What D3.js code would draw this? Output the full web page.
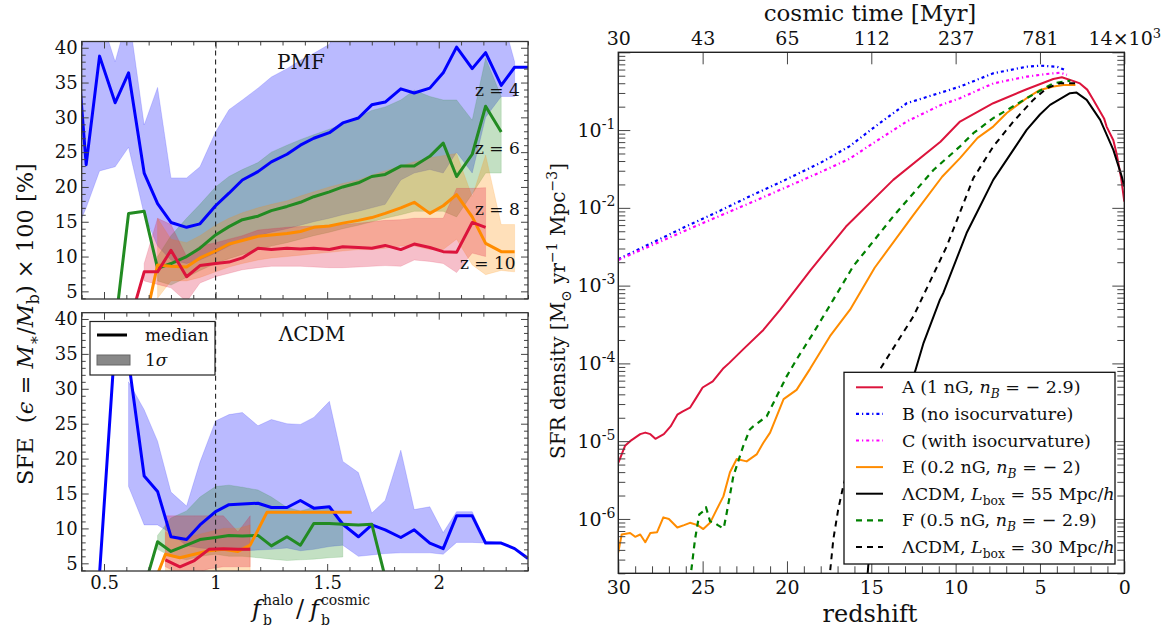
<!DOCTYPE html>
<html>
<head>
<meta charset="utf-8">
<title>SFE vs baryon fraction and SFR density</title>
<script src="https://d3js.org/d3.v7.min.js"></script>
<style>
  body { margin: 0; background: #fff; }
  text { font-family: "DejaVu Serif", serif; fill: #111; }
</style>
</head>
<body>
<script>
const _ = null;

// ---------- left panels: SFE vs f_b^halo / f_b^cosmic ----------
const fbBins = [0.36, 0.42, 0.48, 0.55, 0.61, 0.68, 0.74, 0.80, 0.87, 0.93, 1.00, 1.06, 1.12, 1.19, 1.25, 1.32, 1.38,
                1.44, 1.51, 1.57, 1.64, 1.70, 1.76, 1.83, 1.89, 1.96, 2.02, 2.08, 2.15, 2.21, 2.28, 2.34, 2.40];

// PMF panel
const pmfZ4Med = [48, 23.2, 38.8, 32.1, 36.4, 22.0, 17.6, 14.9, 14.2, 14.7, 17.3, 19.1, 21.0, 22.2, 23.6, 24.7, 26.0,
                  27.0, 27.8, 29.2, 29.9, 31.8, 32.2, 34.1, 33.5, 34.2, 36.4, 40.1, 37.0, 39.3, 34.6, 37.2, 37.2];
const pmfZ4Hi  = [45, 45, 45, 38, 45, 28.9, 34.3, 21.3, 21.3, 22.9, 27.9, 31.1, 32.5, 34.2, 35.8, 37.0, 38.2,
                  39.2, 40.5, 45, 45, 45, 45, 45, 45, 45, 45, 45, 45, 45, 45, 38.0, _];
const pmfZ4Lo  = [12.5, 17, 22.3, 22.9, 25.7, 16, 11.5, 9.5, 9.0, 9.5, 10.5, 11.5, 12.5, 13, 13.5, 14, 14.5,
                  15, 15.5, 16, 16.5, 17, 17.5, 21, 22, 22.5, 22, 25, 22, 30, 33, 33, _];
const pmfZ6Med = [_, _, _, 0, 16.2, 16.5, 8.3, 9.0, 10.0, 11.2, 13.1, 14.3, 15.3, 15.8, 16.6, 17.2, 17.8,
                  18.6, 19.3, 20.0, 20.6, 21.5, 21.8, 23.0, 23.0, 24.4, 26.3, 21.5, 24.7, 31.6, 27.9, _, _];
const pmfZ6Hi  = [_, _, _, _, _, _, 10, 13, 15.5, 17.5, 20, 21.5, 22.5, 23.5, 25, 26, 26.8,
                  27.5, 28.3, 29, 30, 31, 31.5, 32.5, 33.9, 33, 32.5, 32.5, 29.6, 38.5, 33, _, _];
const pmfZ6Lo  = [_, _, _, _, _, _, 6.5, 5.9, 7, 8, 9, 9.7, 10.3, 11, 11.5, 12, 12.5,
                  13, 13.5, 14, 14.5, 15, 15.5, 16, 16.5, 16.5, 16.5, 15.7, 19, 22, 22, _, _];
const pmfZ8Med = [_, _, _, _, _, 0, 8.8, 8.6, 8.5, 9.8, 10.8, 11.8, 12.3, 12.9, 13.1, 13.3, 13.6,
                  14.2, 14.4, 14.8, 15.2, 15.6, 16.2, 17.0, 17.8, 16.2, 17.3, 18.9, 15.7, 11.9, 10.7, 10.7, _];
const pmfZ8Hi  = [_, _, _, _, _, _, 15.5, 12.5, 12, 13, 14.5, 15.5, 16.3, 17, 17.5, 18, 18.7,
                  19.3, 20, 20.5, 21, 21.7, 22.3, 23, 23.6, 24.2, 24.5, 24.8, 18.6, 24.6, 14.6, 14.6, _];
const pmfZ8Lo  = [_, _, _, _, _, _, 4, 6.5, 6.5, 7.0, 7.8, 8.5, 9, 9.5, 9.8, 10, 10.2,
                  10.4, 10.6, 10.8, 11, 11, 11.2, 11.5, 11.5, 11, 11, 12.5, 8.8, 7.4, 8.0, 7.8, _];
const pmfZ10Med = [_, _, _, _, 0, 7.8, 7.8, 10.9, 7.1, 8.7, 9.0, 9.2, 9.8, 11.2, 11.0, 11.2, 11.1,
                   11.2, 11.0, 11.4, 11.3, 11.2, 11.6, 11.0, 11.8, 11.3, 10.7, 10.6, 14.9, 14.2, _, _, _];
const pmfZ10Hi  = [_, _, _, _, _, 9, 15.5, 14.6, 10, 11.5, 12, 12.5, 13, 13.8, 14, 14.2, 14.3,
                   14.4, 14.5, 14.6, 14.8, 15, 15.2, 15.3, 15.5, 15.5, 15.5, 19.8, 19.8, 19.9, _, _, _];
const pmfZ10Lo  = [_, _, _, _, _, 6.5, 6.0, 5.5, 3.5, 6.2, 7.1, 7.6, 8.1, 8.4, 8.6, 8.6, 8.6,
                   8.5, 8.4, 8.4, 8.5, 8.6, 8.7, 8.6, 9.5, 9.3, 9.0, 7.7, 10.5, 10.0, _, _, _];

// LCDM panel
const lcdmZ4Med = [_, _, 3.5, 37, 34, 17.5, 15.3, 8.8, 8.4, 10.5, 12.4, 13.4, 13.5, 13.6, 13.0, 13.0, 14.0,
                   12.9, 13.1, 10.6, 8.8, 10.5, 9.8, 8.7, 9.8, 7.9, 7.1, 11.8, 11.8, 7.9, 7.9, 7.1, 5.7];
const lcdmZ4Hi  = [_, _, _, _, 31, 27, 22.5, 15.2, 13.2, 19.5, 25.4, 26.3, 26.6, 24.7, 25.6, 25, 24.9,
                   25.9, 28.2, 19.6, 18.0, 12.2, 14, 21.2, 12.7, 13.1, 9.4, 12.4, 12.4, 8.2, 8.0, _, _];
const lcdmZ4Lo  = [_, _, _, _, 16, 10.5, 10.5, 9.3, 7.5, 7.2, 7.0, 6.9, 6.8, 6.9, 7.0, 7.2, 6.8,
                   7.0, 7.4, 7.6, 6.0, 6.2, 6.4, 6.5, 6.5, 6.5, 6.3, 8.0, 8.0, 7.9, 7.8, _, _];
const lcdmZ6Med = [_, _, _, _, _, 1.5, 8.1, 6.7, 7.6, 8.4, 8.7, 9.0, 8.9, 9.0, 7.5, 8.8, 7.6,
                   10.7, 10.7, 10.6, 10.5, 10.6, 3.0, _, _, _, _, _, _, _, _, _, _];
const lcdmZ6Hi  = [_, _, _, _, _, _, 9, 11.5, 12.5, 14.5, 16, 16.2, 15.9, 15.5, 14.5, 13, 12.5,
                   13, 12.8, 11, _, _, _, _, _, _, _, _, _, _, _, _, _];
const lcdmZ6Lo  = [_, _, _, _, _, _, 7, 6, 5.5, 6, 6.3, 6, 6, 5.8, 5.6, 5.4, 5.5,
                   5.6, 5.8, 5.9, _, _, _, _, _, _, _, _, _, _, _, _, _];
const lcdmHalfBins = [0.71, 0.775, 0.84, 0.905, 0.97, 1.035, 1.10, 1.155, 1.23, 1.61];
const lcdmZ8Med  = [1.0, 6.3, 5.8, 6.3, 6.8, 7.0, 6.7, 7.6, 12.3, 12.3];
const lcdmZ8Hi   = [_, 9.5, 8.5, 9, 9.5, 10, 10, 10.5, _, _];
const lcdmZ8Lo   = [_, 3.0, 3.0, 3.2, 3.5, 3.5, 3.5, 3.5, _, _];
const lcdmZ10Med = [_, 5.5, 4.5, 5.4, 7.0, 7.1, 7.0, 7.0, _, _];
const lcdmZ10Hi  = [_, 11.8, 11.8, 11.8, 11.8, 11.8, 9.5, 11.8, _, _];
const lcdmZ10Lo  = [_, 4.5, 3.5, 3.5, 4.2, 4.5, 4.5, 4.5, _, _];

const fbMajorTicks = [0.5, 1, 1.5, 2];
const sfeMajorTicks = [5, 10, 15, 20, 25, 30, 35, 40];

// ---------- right panel: SFR density vs redshift (log10 values) ----------
const zA = [30, 29.6, 29.3, 28.7, 28.4, 28.1, 27.8, 27.3, 26.9, 26.5, 26.2, 25.75, 25.4, 25.0, 24.4, 23.8, 23.4, 22.6,
            21.4, 20.4, 18.6, 16.5, 13.7, 10.9, 9.74, 7.77, 5.79, 4.21, 3.7, 3.0, 2.63, 2.2, 1.84, 1.2, 1.05, 0.65, 0.46, 0.2, 0];
const logA = [-5.28, -5.06, -5.00, -4.91, -4.89, -4.91, -4.97, -4.91, -4.81, -4.66, -4.62, -4.57, -4.45, -4.31, -4.23, -4.07, -3.99, -3.82,
              -3.57, -3.31, -2.80, -2.24, -1.64, -1.15, -0.89, -0.655, -0.475, -0.343, -0.32, -0.37, -0.40, -0.48, -0.61, -0.85, -0.955, -1.13, -1.30, -1.60, -1.92];
const zB = [30, 28, 26, 24, 22, 20, 18, 16.3, 14.9, 12.9, 10.9, 9.74, 7.77, 5.79, 5.0, 4.0, 3.52];
const logB = [-2.66, -2.45, -2.24, -2.04, -1.83, -1.63, -1.42, -1.21, -0.976, -0.655, -0.52, -0.441, -0.270, -0.185, -0.172, -0.185, -0.227];
const zC = [30, 26, 22, 18, 16.3, 14.9, 12.9, 10.9, 9.74, 7.77, 5.8, 4.6, 3.8, 3.4];
const logC = [-2.67, -2.29, -1.92, -1.54, -1.37, -1.17, -0.89, -0.68, -0.59, -0.40, -0.313, -0.279, -0.262, -0.29];
const zE = [30, 29.8, 29.3, 29.0, 28.7, 28.4, 28.1, 27.7, 27.33, 27.0, 26.5, 26.1, 25.75, 25.3, 24.96, 24.56, 24.17, 23.77,
            23.38, 22.98, 22.39, 21.8, 21.4, 21.0, 20.2, 19.43, 18.63, 17.45, 16.26, 14.8, 12.5, 10.8, 9.74, 8.7, 7.77, 6.97, 5.79, 5.0, 4.2, 3.6, 2.9];
const logE = [-6.43, -6.20, -6.18, -6.23, -6.20, -6.30, -6.18, -6.17, -5.98, -6.00, -6.11, -6.08, -6.05, -6.08, -6.13, -6.05, -5.88, -5.71,
              -5.40, -5.23, -5.26, -5.17, -5.02, -4.89, -4.46, -4.34, -4.07, -3.65, -3.31, -2.77, -2.09, -1.60, -1.36, -1.10, -0.955, -0.78, -0.59, -0.484, -0.44, -0.42, -0.42];
const zL55 = [15.25, 15.18, 14.5, 13.5, 12.4, 11.9, 10.93, 10.73, 9.35, 8.56, 7.77, 5.79, 5.0, 4.4, 3.22, 2.83, 2.23, 1.43, 0.65, 0.15, 0];
const logL55 = [-6.8, -6.6, -5.6, -4.8, -4.10, -3.735, -3.18, -3.094, -2.324, -1.982, -1.64, -0.998, -0.80, -0.676, -0.526, -0.518, -0.612, -0.869, -1.254, -1.597, -1.725];
const zF = [25.75, 25.45, 25.2, 24.96, 24.8, 24.56, 24.3, 24.1, 23.87, 23.75, 23.57, 23.18, 22.59, 22.2, 22.0, 21.2, 20.6, 20.0,
            19.43, 18.44, 17.25, 16.07, 14.88, 13.7, 11.3, 9.74, 8.95, 7.77, 5.79, 4.2, 3.2];
const logF = [-6.8, -6.26, -5.94, -5.90, -5.85, -6.03, -6.05, -6.08, -6.11, -6.12, -5.92, -5.45, -5.06, -4.85, -4.81, -4.68, -4.42, -4.16,
              -3.95, -3.61, -3.18, -2.75, -2.43, -2.11, -1.51, -1.21, -1.04, -0.847, -0.591, -0.398, -0.365];
const zL30 = [17.5, 17.25, 16.96, 16.66, 16.0, 15.2, 14.49, 12.5, 10.53, 8.95, 7.77, 6.58, 5.4, 4.6, 3.82, 2.83, 2.7];
const logL30 = [-6.8, -6.26, -5.875, -5.576, -5.05, -4.55, -4.078, -3.394, -2.496, -1.618, -1.212, -0.891, -0.612, -0.462, -0.398, -0.398, -0.42];

const redshiftTicks = [30, 25, 20, 15, 10, 5, 0];
const cosmicTimeLabels = ["30", "43", "65", "112", "237", "781", "14×10"];
const sfrDecades = [-6, -5, -4, -3, -2, -1];

// ---------- figure ----------
const W = 1167, H = 628;
const svg = d3.select("body").append("svg").attr("width", W).attr("height", H);
const defs = svg.append("defs");

const left = { x0: 81.7, x1: 528 };
const right = { x0: 618.3, x1: 1124.3, y0: 52.3, y1: 573.3 };

const fbX = d3.scaleLinear().domain([0.4, 2.4]).range([left.x0, left.x1]);
const yPmf = d3.scaleLinear().domain([3.9, 40.9]).range([299, 41.5]);
const yLcdm = d3.scaleLinear().domain([3.9, 40.9]).range([571, 312.7]);

const colBlue = "#0000ff", colGreen = "#228b22", colOrange = "#ff8c00", colRed = "#dc143c";

function styleAxis(g, fs) {
  g.select(".domain").remove();
  g.selectAll(".tick line").attr("stroke", "#444").attr("stroke-width", 1);
  g.selectAll(".tick text").attr("font-family", "DejaVu Serif").attr("font-size", fs).attr("fill", "#111");
}

function rich(sel, parts, fs) {
  let shift = 0;
  parts.forEach(p => {
    const target = p.sub ? 0.28 * fs : p.sup ? -0.42 * fs : 0;
    const ts = sel.append("tspan").text(p.t).attr("dy", target - shift);
    shift = target;
    if (p.sub || p.sup) ts.attr("font-size", (p.fs || 0.7) * fs);
    if (p.i) ts.attr("font-style", "italic");
  });
}

function fbPanel(y, id, bands, lines, showLabels) {
  const [yb, yt] = y.range();
  defs.append("clipPath").attr("id", id).append("rect")
    .attr("x", left.x0).attr("y", yt).attr("width", left.x1 - left.x0).attr("height", yb - yt);
  const g = svg.append("g");
  const plot = g.append("g").attr("clip-path", `url(#${id})`);

  bands.forEach(b => {
    const pts = b.x.map((x, i) => ({ x, lo: b.lo[i], hi: b.hi[i] })).filter(d => d.lo != null && d.hi != null);
    plot.append("path")
      .attr("d", d3.area().x(d => fbX(d.x)).y0(d => y(d.lo)).y1(d => y(d.hi))(pts))
      .attr("fill", b.color).attr("fill-opacity", 0.27)
      .attr("stroke", b.color).attr("stroke-opacity", 0.15).attr("stroke-width", 1);
  });

  plot.append("line").attr("x1", fbX(1)).attr("x2", fbX(1)).attr("y1", yt).attr("y2", yb)
    .attr("stroke", "#222").attr("stroke-width", 1.1).attr("stroke-dasharray", "5,4");

  lines.forEach(l => {
    const pts = l.x.map((x, i) => ({ x, v: l.v[i] })).filter(d => d.v != null);
    plot.append("path")
      .attr("d", d3.line().x(d => fbX(d.x)).y(d => y(d.v))(pts))
      .attr("fill", "none").attr("stroke", l.color).attr("stroke-width", 3).attr("stroke-linejoin", "round");
  });

  const minorX = d3.range(4, 25).map(d => d / 10).filter(d => !fbMajorTicks.includes(d));
  const minorY = d3.range(4, 41).filter(d => d % 5 !== 0);

  const bx = g.append("g").attr("transform", `translate(0,${yb})`)
    .call(d3.axisBottom(fbX).tickValues(fbMajorTicks).tickSize(-7).tickPadding(5)
      .tickFormat(showLabels ? (d => String(d)) : () => ""));
  styleAxis(bx, 18);
  styleAxis(g.append("g").attr("transform", `translate(0,${yb})`)
    .call(d3.axisBottom(fbX).tickValues(minorX).tickSize(-4).tickFormat("")), 18);
  styleAxis(g.append("g").attr("transform", `translate(0,${yt})`)
    .call(d3.axisTop(fbX).tickValues(fbMajorTicks).tickSize(-7).tickFormat("")), 18);
  styleAxis(g.append("g").attr("transform", `translate(0,${yt})`)
    .call(d3.axisTop(fbX).tickValues(minorX).tickSize(-4).tickFormat("")), 18);

  styleAxis(g.append("g").attr("transform", `translate(${left.x0},0)`)
    .call(d3.axisLeft(y).tickValues(sfeMajorTicks).tickSize(-7).tickPadding(4)), 18);
  styleAxis(g.append("g").attr("transform", `translate(${left.x0},0)`)
    .call(d3.axisLeft(y).tickValues(minorY).tickSize(-4).tickFormat("")), 18);
  styleAxis(g.append("g").attr("transform", `translate(${left.x1},0)`)
    .call(d3.axisRight(y).tickValues(sfeMajorTicks).tickSize(-7).tickFormat("")), 18);
  styleAxis(g.append("g").attr("transform", `translate(${left.x1},0)`)
    .call(d3.axisRight(y).tickValues(minorY).tickSize(-4).tickFormat("")), 18);

  g.append("rect").attr("x", left.x0).attr("y", yt).attr("width", left.x1 - left.x0).attr("height", yb - yt)
    .attr("fill", "none").attr("stroke", "#333").attr("stroke-width", 1.3);
  return g;
}

// PMF panel
const gPmf = fbPanel(yPmf, "clipPmf",
  [
    { x: fbBins, lo: pmfZ4Lo, hi: pmfZ4Hi, color: colBlue },
    { x: fbBins, lo: pmfZ6Lo, hi: pmfZ6Hi, color: colGreen },
    { x: fbBins, lo: pmfZ8Lo, hi: pmfZ8Hi, color: colOrange },
    { x: fbBins, lo: pmfZ10Lo, hi: pmfZ10Hi, color: colRed }
  ],
  [
    { x: fbBins, v: pmfZ4Med, color: colBlue },
    { x: fbBins, v: pmfZ6Med, color: colGreen },
    { x: fbBins, v: pmfZ8Med, color: colOrange },
    { x: fbBins, v: pmfZ10Med, color: colRed }
  ], false);

gPmf.append("text").attr("x", 301).attr("y", 69).attr("text-anchor", "middle").attr("font-size", 20).text("PMF");
[["z = 4", 475, 96, "#2a2aa8"], ["z = 6", 475, 154, "#2f6f2f"], ["z = 8", 475, 215, "#b9823a"], ["z = 10", 460, 269, "#a3243f"]]
  .forEach(([t, x, y, c]) => gPmf.append("text").attr("x", x).attr("y", y).attr("font-size", 17).attr("fill", c).text(t));

// LCDM panel
const gLcdm = fbPanel(yLcdm, "clipLcdm",
  [
    { x: fbBins, lo: lcdmZ4Lo, hi: lcdmZ4Hi, color: colBlue },
    { x: fbBins, lo: lcdmZ6Lo, hi: lcdmZ6Hi, color: colGreen },
    { x: lcdmHalfBins, lo: lcdmZ8Lo, hi: lcdmZ8Hi, color: colOrange },
    { x: lcdmHalfBins, lo: lcdmZ10Lo, hi: lcdmZ10Hi, color: colRed }
  ],
  [
    { x: fbBins, v: lcdmZ4Med, color: colBlue },
    { x: fbBins, v: lcdmZ6Med, color: colGreen },
    { x: lcdmHalfBins, v: lcdmZ8Med, color: colOrange },
    { x: lcdmHalfBins, v: lcdmZ10Med, color: colRed }
  ], true);

gLcdm.append("text").attr("x", 312).attr("y", 341).attr("text-anchor", "middle").attr("font-size", 20).text("ΛCDM");

// small legend (median / 1 sigma)
const lg = gLcdm.append("g");
lg.append("rect").attr("x", 90).attr("y", 321.5).attr("width", 125).attr("height", 53.5)
  .attr("fill", "#fff").attr("stroke", "#222").attr("stroke-width", 1.2);
lg.append("line").attr("x1", 97).attr("x2", 127).attr("y1", 335).attr("y2", 335).attr("stroke", "#000").attr("stroke-width", 3);
lg.append("text").attr("x", 145).attr("y", 341).attr("font-size", 17).text("median");
lg.append("rect").attr("x", 97).attr("y", 355).attr("width", 33).attr("height", 10)
  .attr("fill", "#888").attr("stroke", "#666").attr("stroke-width", 1);
rich(lg.append("text").attr("x", 145).attr("y", 366).attr("font-size", 17), [{ t: "1" }, { t: "σ", i: true }], 17);

// left axis labels
const ylab = svg.append("text").attr("transform", "translate(33,324) rotate(-90)")
  .attr("text-anchor", "middle").attr("font-size", 22.5);
rich(ylab, [
  { t: "SFE\u00a0\u00a0(" }, { t: "ϵ", i: true }, { t: " = " }, { t: "M", i: true }, { t: "∗", sub: true },
  { t: "/" }, { t: "M", i: true }, { t: "b", sub: true }, { t: ") × 100 [%]" }
], 22.5);

const xl = svg.append("g");
xl.append("text").attr("x", 252).attr("y", 617).attr("font-size", 24).attr("font-style", "italic").text("f");
xl.append("text").attr("x", 263).attr("y", 605).attr("font-size", 14).text("halo");
xl.append("text").attr("x", 263).attr("y", 625).attr("font-size", 14).text("b");
xl.append("text").attr("x", 296).attr("y", 617).attr("font-size", 24).text("/");
xl.append("text").attr("x", 310).attr("y", 617).attr("font-size", 24).attr("font-style", "italic").text("f");
xl.append("text").attr("x", 321).attr("y", 605).attr("font-size", 14).text("cosmic");
xl.append("text").attr("x", 321).attr("y", 625).attr("font-size", 14).text("b");

// ---------- right panel ----------
const zX = d3.scaleLinear().domain([30, 0]).range([right.x0, right.x1]);
const sfrY = d3.scaleLog().domain([2e-7, 1]).range([right.y1, right.y0]);

defs.append("clipPath").attr("id", "clipSfr").append("rect")
  .attr("x", right.x0).attr("y", right.y0).attr("width", right.x1 - right.x0).attr("height", right.y1 - right.y0);

const gR = svg.append("g");
const plotR = gR.append("g").attr("clip-path", "url(#clipSfr)");

const sfrSeries = [
  { key: "A", z: zA, lg: logA, color: colRed, w: 2, dash: null },
  { key: "B", z: zB, lg: logB, color: "#0000ff", w: 2.2, dash: "3,3,1.2,3" },
  { key: "C", z: zC, lg: logC, color: "#ff00ff", w: 2.2, dash: "3,3,1.2,3" },
  { key: "E", z: zE, lg: logE, color: colOrange, w: 2, dash: null },
  { key: "L55", z: zL55, lg: logL55, color: "#000", w: 2, dash: null },
  { key: "F", z: zF, lg: logF, color: "#008000", w: 2.2, dash: "6,5" },
  { key: "L30", z: zL30, lg: logL30, color: "#000", w: 2, dash: "6,5" }
];
const sfrLine = d3.line().x(d => zX(d[0])).y(d => sfrY(Math.pow(10, d[1])));
sfrSeries.forEach(s => {
  plotR.append("path")
    .attr("d", sfrLine(s.z.map((z, i) => [z, s.lg[i]])))
    .attr("fill", "none").attr("stroke", s.color).attr("stroke-width", s.w)
    .attr("stroke-linejoin", "round")
    .attr("stroke-dasharray", s.dash);
});

// axes of right panel
const minorZ = d3.range(0, 31).filter(d => d % 5 !== 0);
const bz = gR.append("g").attr("transform", `translate(0,${right.y1})`)
  .call(d3.axisBottom(zX).tickValues(redshiftTicks).tickSize(-12).tickPadding(7).tickFormat(d => String(d)));
styleAxis(bz, 19);
styleAxis(gR.append("g").attr("transform", `translate(0,${right.y1})`)
  .call(d3.axisBottom(zX).tickValues(minorZ).tickSize(-7).tickFormat("")), 19);
const tz = gR.append("g").attr("transform", `translate(0,${right.y0})`)
  .call(d3.axisTop(zX).tickValues(redshiftTicks).tickSize(-12).tickPadding(7).tickFormat((d, i) => cosmicTimeLabels[i]));
styleAxis(tz, 19);
tz.selectAll(".tick text").filter((d, i) => i === redshiftTicks.length - 1)
  .append("tspan").attr("dy", -7).attr("font-size", 13).text("3");

const majorS = sfrDecades.map(e => Math.pow(10, e)).concat([1]);
const minorS = sfrY.ticks().filter(v => Math.abs(Math.log10(v) - Math.round(Math.log10(v))) > 1e-6);
const ly = gR.append("g").attr("transform", `translate(${right.x0},0)`)
  .call(d3.axisLeft(sfrY).tickValues(majorS).tickSize(-12).tickPadding(3).tickFormat(""));
styleAxis(ly, 19);
ly.selectAll(".tick text").each(function (d) {
  const e = Math.round(Math.log10(d));
  if (e === 0) return;
  const t = d3.select(this);
  t.text("10").append("tspan").attr("dy", -8).attr("font-size", 14).text(String(e));
});
styleAxis(gR.append("g").attr("transform", `translate(${right.x0},0)`)
  .call(d3.axisLeft(sfrY).tickValues(minorS).tickSize(-7).tickFormat("")), 19);
styleAxis(gR.append("g").attr("transform", `translate(${right.x1},0)`)
  .call(d3.axisRight(sfrY).tickValues(majorS).tickSize(-12).tickFormat("")), 19);
styleAxis(gR.append("g").attr("transform", `translate(${right.x1},0)`)
  .call(d3.axisRight(sfrY).tickValues(minorS).tickSize(-7).tickFormat("")), 19);

gR.append("rect").attr("x", right.x0).attr("y", right.y0).attr("width", right.x1 - right.x0).attr("height", right.y1 - right.y0)
  .attr("fill", "none").attr("stroke", "#222").attr("stroke-width", 1.4);

// legend
const legendParts = {
  A: [{ t: "A (1 nG, " }, { t: "n", i: true }, { t: "B", sub: true, i: true }, { t: " = − 2.9)" }],
  B: [{ t: "B (no isocurvature)" }],
  C: [{ t: "C (with isocurvature)" }],
  E: [{ t: "E (0.2 nG, " }, { t: "n", i: true }, { t: "B", sub: true, i: true }, { t: " = − 2)" }],
  L55: [{ t: "ΛCDM, " }, { t: "L", i: true }, { t: "box", sub: true }, { t: " = 55 Mpc/" }, { t: "h", i: true }],
  F: [{ t: "F (0.5 nG, " }, { t: "n", i: true }, { t: "B", sub: true, i: true }, { t: " = − 2.9)" }],
  L30: [{ t: "ΛCDM, " }, { t: "L", i: true }, { t: "box", sub: true }, { t: " = 30 Mpc/" }, { t: "h", i: true }]
};
const leg = gR.append("g");
leg.append("rect").attr("x", 844).attr("y", 372.3).attr("width", 271).attr("height", 191.7)
  .attr("fill", "#fff").attr("stroke", "#111").attr("stroke-width", 1.3);
sfrSeries.forEach((s, i) => {
  const yy = 387.3 + i * 26.6;
  leg.append("line").attr("x1", 856).attr("x2", 883).attr("y1", yy).attr("y2", yy)
    .attr("stroke", s.color).attr("stroke-width", s.w).attr("stroke-dasharray", s.dash);
  rich(leg.append("text").attr("x", 902).attr("y", yy + 6).attr("font-size", 17.5), legendParts[s.key], 17.5);
});

// right axis labels
svg.append("text").attr("x", 870).attr("y", 622).attr("text-anchor", "middle").attr("font-size", 24).text("redshift");
svg.append("text").attr("x", 870).attr("y", 21).attr("text-anchor", "middle").attr("font-size", 23).text("cosmic time [Myr]");
const ry = svg.append("text").attr("transform", "translate(565,311) rotate(-90)")
  .attr("text-anchor", "middle").attr("font-size", 20);
rich(ry, [
  { t: "SFR density [M" }, { t: "⊙", sub: true }, { t: " yr" }, { t: "−1", sup: true },
  { t: " Mpc" }, { t: "−3", sup: true }, { t: "]" }
], 20);
</script>
</body>
</html>
